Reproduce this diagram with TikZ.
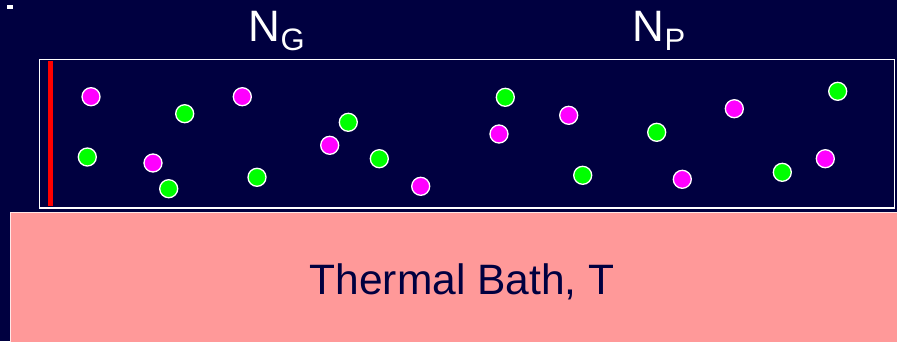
\documentclass[tikz,border=0pt]{standalone}
\usepackage{fontspec}
\setmainfont{Liberation Sans}
\definecolor{navy}{RGB}{0,0,64}
\definecolor{bathpink}{RGB}{255,153,153}
\definecolor{partg}{RGB}{0,255,0}
\definecolor{partp}{RGB}{255,0,255}
\definecolor{wallred}{RGB}{255,0,0}
\tikzset{
  gasg/.style={circle,draw=white,line width=1.3pt,fill=partg,inner sep=0pt,minimum size=18pt},
  gasp/.style={circle,draw=white,line width=1.3pt,fill=partp,inner sep=0pt,minimum size=18pt},
  numlabel/.style={text=white,inner sep=0pt,anchor=base west,font=\fontsize{44}{44}\selectfont}
}
\newcommand{\subsc}[1]{\raisebox{-8.5pt}{\fontsize{31}{31}\selectfont #1}}

\begin{document}
\begin{tikzpicture}[x=1pt,y=-1pt]
\fill[navy] (0,0) rectangle (897,341);
\useasboundingbox (0,0) rectangle (897,341);
\fill[white] (7.3,5) rectangle (12.7,9.3);

\node[numlabel] (ng) at (248.7,41.7) {N\subsc{G}};
\node[numlabel] (np) at (632.7,41.7) {N\subsc{P}};

\node[draw=white,line width=1.5pt,minimum width=855pt,minimum height=148.5pt,inner sep=0pt] (box) at (467.1,133.75) {};
\fill[wallred] (48,61) rectangle (53,205.7);

\node[fill=bathpink,draw=white!75!bathpink,line width=0.8pt,minimum width=900pt,minimum height=140pt,inner sep=0pt,anchor=north west] (bath) at (10.3,211.7) {};
\node[text=navy,inner sep=0pt,anchor=base,font=\fontsize{42.5}{42.5}\selectfont] (bathtext) at (462,294) {Thermal Bath, T};

% green particles
\foreach \x/\y [count=\i] in {184.7/113.7, 87.3/157, 168.7/188.7, 257/177.3, 348.3/122.3, 379.3/158.7,
  505.3/97.3, 837.7/91.3, 656.7/132.3, 582.7/175.3, 782.3/172.3}
  \node[gasg] (g\i) at (\x,\y) {};
% magenta particles
\foreach \x/\y [count=\i] in {91/96.7, 242.3/96.7, 153/163, 329.7/145.3, 420.7/186.3,
  568.7/115.3, 499/134, 734.3/108.7, 682.3/179.3, 825.3/158.7}
  \node[gasp] (p\i) at (\x,\y) {};
%\draw[->,thick] (ng) -- (box);

\end{tikzpicture}
\end{document}
